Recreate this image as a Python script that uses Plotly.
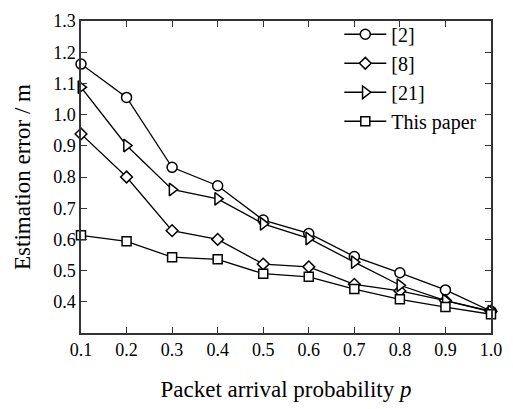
import plotly.graph_objects as go

p = [0.1, 0.2, 0.3, 0.4, 0.5, 0.6, 0.7, 0.8, 0.9, 1.0]
err_ref2 = [1.162, 1.055, 0.831, 0.772, 0.662, 0.619, 0.545, 0.493, 0.438, 0.370]
err_ref8 = [0.938, 0.800, 0.628, 0.600, 0.521, 0.512, 0.456, 0.435, 0.404, 0.370]
err_ref21 = [1.088, 0.901, 0.760, 0.730, 0.650, 0.603, 0.527, 0.453, 0.404, 0.368]
err_this = [0.613, 0.594, 0.543, 0.536, 0.490, 0.480, 0.441, 0.408, 0.383, 0.360]
names = ["[2]", "[8]", "[21]", "This paper"]
symbols = ["circle", "diamond", "triangle-right", "square"]
sizes = [10, 9, 11, 9]
series = [err_ref2, err_ref8, err_ref21, err_this]
yticks = [0.4, 0.5, 0.6, 0.7, 0.8, 0.9, 1.0, 1.1, 1.2, 1.3]

fig = go.Figure()
for name, sym, sz, ys in zip(names, symbols, sizes, series):
    fig.add_trace(go.Scatter(
        x=p, y=ys, name=name, mode="lines+markers",
        line=dict(color="black", width=1.3),
        marker=dict(symbol=sym, size=sz, color="white",
                    line=dict(color="black", width=1.5)),
        cliponaxis=False,
    ))

ff = "Liberation Serif"
fig.update_layout(
    width=513, height=409,
    margin=dict(l=81, r=17, t=11, b=72),
    paper_bgcolor="white", plot_bgcolor="white",
    font=dict(family=ff, size=18, color="black"),
    showlegend=True,
    legend=dict(x=0.63, y=1.02, xanchor="left", yanchor="top",
                bgcolor="rgba(0,0,0,0)", font=dict(family=ff, size=20, color="black"),
                tracegroupgap=0, itemwidth=42),
)
fig.update_xaxes(
    range=[0.1, 1.0], tickvals=p, tickformat=".1f",
    ticks="inside", ticklen=6, tickcolor="#333",
    showline=True, linecolor="#333", linewidth=1.5, mirror="ticks",
    showgrid=False, zeroline=False,
    tickfont=dict(family=ff, size=18, color="black"),
    title=dict(text="Packet arrival probability <i>p</i>",
               font=dict(family=ff, size=23, color="black"), standoff=22),
)
fig.update_yaxes(
    range=[0.3, 1.3], tickvals=yticks, tickformat=".1f",
    ticks="inside", ticklen=6, tickcolor="#333",
    showline=True, linecolor="#333", linewidth=1.5, mirror="ticks",
    showgrid=False, zeroline=False,
    tickfont=dict(family=ff, size=18, color="black"),
    title=dict(text="Estimation error / m",
               font=dict(family=ff, size=23, color="black"), standoff=16),
)
fig.write_html("out.html")
